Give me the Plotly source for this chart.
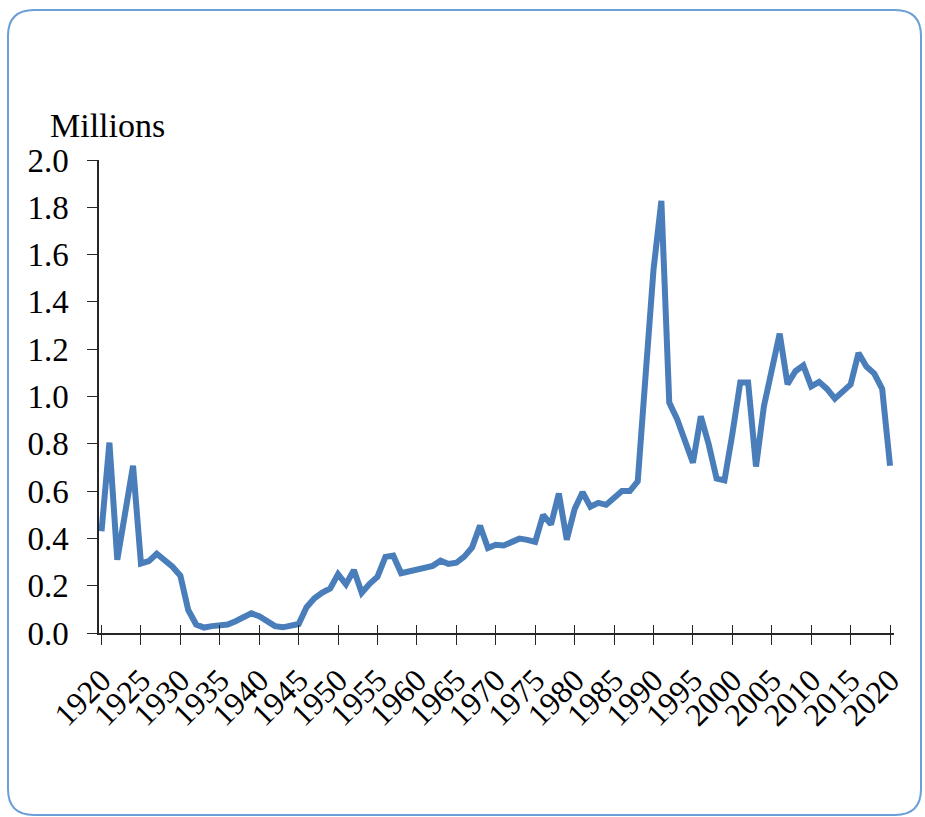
import plotly.graph_objects as go

# ---- data (millions) ----
years = [
    1920, 1921, 1922, 1923, 1924, 1925, 1926, 1927, 1928, 1929,
    1930, 1931, 1932, 1933, 1934, 1935, 1936, 1937, 1938, 1939,
    1940, 1941, 1942, 1943, 1944, 1945, 1946, 1947, 1948, 1949,
    1950, 1951, 1952, 1953, 1954, 1955, 1956, 1957, 1958, 1959,
    1960, 1961, 1962, 1963, 1964, 1965, 1966, 1967, 1968, 1969,
    1970, 1971, 1972, 1973, 1974, 1975, 1976, 1977, 1978, 1979,
    1980, 1981, 1982, 1983, 1984, 1985, 1986, 1987, 1988, 1989,
    1990, 1991, 1992, 1993, 1994, 1995, 1996, 1997, 1998, 1999,
    2000, 2001, 2002, 2003, 2004, 2005, 2006, 2007, 2008, 2009,
    2010, 2011, 2012, 2013, 2014, 2015, 2016, 2017, 2018, 2019,
    2020,
]
values = [
    0.430, 0.805, 0.310, 0.523, 0.707, 0.294, 0.304, 0.335, 0.307, 0.280,
    0.242, 0.097, 0.036, 0.023, 0.029, 0.035, 0.036, 0.050, 0.068, 0.083,
    0.071, 0.052, 0.029, 0.024, 0.029, 0.038, 0.109, 0.147, 0.171, 0.188,
    0.249, 0.206, 0.266, 0.170, 0.208, 0.238, 0.322, 0.327, 0.253, 0.261,
    0.265, 0.271, 0.284, 0.306, 0.292, 0.297, 0.323, 0.362, 0.454, 0.359,
    0.373, 0.370, 0.385, 0.399, 0.394, 0.385, 0.499, 0.459, 0.590, 0.394,
    0.524, 0.595, 0.534, 0.550, 0.542, 0.568, 0.600, 0.600, 0.641, 1.090,
    1.536, 1.827, 0.974, 0.904, 0.804, 0.720, 0.916, 0.798, 0.653, 0.645,
    0.841, 1.059, 1.059, 0.704, 0.958, 1.122, 1.266, 1.052, 1.107, 1.131,
    1.043, 1.062, 1.032, 0.991, 1.017, 1.051, 1.184, 1.127, 1.097, 1.032,
    0.707,
]
x_tick_vals = [1920, 1925, 1930, 1935, 1940, 1945, 1950, 1955, 1960, 1965,
               1970, 1975, 1980, 1985, 1990, 1995, 2000, 2005, 2010, 2015, 2020]
x_tick_text = ["1920", "1925", "1930", "1935", "1940", "1945", "1950", "1955",
               "1960", "1965", "1970", "1975", "1980", "1985", "1990", "1995",
               "2000", "2005", "2010", "2015", "2020"]
y_tick_vals = [0.0, 0.2, 0.4, 0.6, 0.8, 1.0, 1.2, 1.4, 1.6, 1.8, 2.0]
y_tick_text = ["0.0", "0.2", "0.4", "0.6", "0.8", "1.0", "1.2", "1.4", "1.6", "1.8", "2.0"]
y_title = "Millions"

# ---- layout geometry ----
W, H = 925, 817
ML, MR, MT, MB = 99, 31, 160, 184
PW, PH = W - ML - MR, H - MT - MB
FONT = "Liberation Serif, Times New Roman, serif"
AXIS_COLOR = "#262626"
LINE_COLOR = "#4a7ebb"


def px_x(x):
    return (x - ML) / PW


def px_y(y):
    return (H - MB - y) / PH


fig = go.Figure()
fig.add_trace(go.Scatter(
    x=years, y=values, mode="lines",
    line=dict(color=LINE_COLOR, width=6),
    showlegend=False, hoverinfo="skip",
))
# invisible trace to instantiate the overlay axis (inner half of crossing ticks)
fig.add_trace(go.Scatter(
    x=years, y=values, mode="none", xaxis="x2",
    showlegend=False, hoverinfo="skip",
))

xrange = [1919.68, 2020.5]

# rounded border
L, R, T, B, r = 8, 921, 10, 815, 26
path = (
    f"M {px_x(L + r)},{px_y(T)} L {px_x(R - r)},{px_y(T)} "
    f"Q {px_x(R)},{px_y(T)} {px_x(R)},{px_y(T + r)} "
    f"L {px_x(R)},{px_y(B - r)} Q {px_x(R)},{px_y(B)} {px_x(R - r)},{px_y(B)} "
    f"L {px_x(L + r)},{px_y(B)} Q {px_x(L)},{px_y(B)} {px_x(L)},{px_y(B - r)} "
    f"L {px_x(L)},{px_y(T + r)} Q {px_x(L)},{px_y(T)} {px_x(L + r)},{px_y(T)} Z"
)

fig.update_layout(
    width=W, height=H,
    margin=dict(l=ML, r=MR, t=MT, b=MB, pad=0),
    paper_bgcolor="white", plot_bgcolor="white",
    font=dict(family=FONT, color="black", size=31),
    xaxis=dict(
        range=xrange, showgrid=False, zeroline=False,
        showline=True, linecolor=AXIS_COLOR, linewidth=1.5,
        tickmode="array", tickvals=x_tick_vals, ticktext=x_tick_text,
        ticks="outside", ticklen=10, tickwidth=1.3, tickcolor=AXIS_COLOR,
        tickangle=-45, tickfont=dict(family=FONT, size=32, color="black"),
        ticklabelstandoff=4,
    ),
    xaxis2=dict(
        range=xrange, overlaying="x", anchor="y", side="bottom",
        showgrid=False, zeroline=False, showline=False,
        tickmode="array", tickvals=x_tick_vals,
        ticks="inside", ticklen=8, tickwidth=1.3, tickcolor=AXIS_COLOR,
        showticklabels=False,
    ),
    yaxis=dict(
        range=[0, 2.0], showgrid=False, zeroline=False,
        showline=True, linecolor=AXIS_COLOR, linewidth=1.5,
        tickmode="array", tickvals=y_tick_vals, ticktext=y_tick_text,
        ticks="outside", ticklen=10, tickwidth=1.3, tickcolor=AXIS_COLOR,
        tickfont=dict(family=FONT, size=33, color="black"),
        ticklabelstandoff=12,
    ),
    shapes=[dict(
        type="path", xref="paper", yref="paper", path=path,
        line=dict(color="#6a9fd8", width=2), fillcolor="rgba(0,0,0,0)",
        layer="below",
    )],
    annotations=[dict(
        text=y_title, xref="paper", yref="paper",
        x=px_x(48), y=px_y(146), xanchor="left", yanchor="bottom",
        showarrow=False, font=dict(family=FONT, size=34, color="black"),
    )],
)

fig.write_html("out.html")
